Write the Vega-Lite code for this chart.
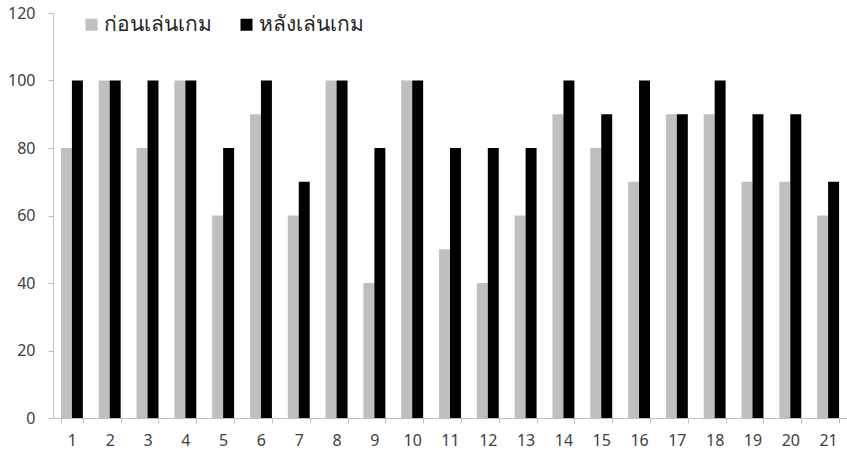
{
  "$schema": "https://vega.github.io/schema/vega-lite/v6.json",
  "width": 794,
  "height": 405,
  "autosize": {"type": "none"},
  "padding": {"left": 53, "top": 13, "right": 0, "bottom": 38},
  "background": "white",
  "config": {"view": {"stroke": null}, "font": "Noto Sans"},
  "data": {"values": [
    {"n": 1, "s": "ก่อนเล่นเกม", "v": 80}, {"n": 1, "s": "หลังเล่นเกม", "v": 100},
    {"n": 2, "s": "ก่อนเล่นเกม", "v": 100}, {"n": 2, "s": "หลังเล่นเกม", "v": 100},
    {"n": 3, "s": "ก่อนเล่นเกม", "v": 80}, {"n": 3, "s": "หลังเล่นเกม", "v": 100},
    {"n": 4, "s": "ก่อนเล่นเกม", "v": 100}, {"n": 4, "s": "หลังเล่นเกม", "v": 100},
    {"n": 5, "s": "ก่อนเล่นเกม", "v": 60}, {"n": 5, "s": "หลังเล่นเกม", "v": 80},
    {"n": 6, "s": "ก่อนเล่นเกม", "v": 90}, {"n": 6, "s": "หลังเล่นเกม", "v": 100},
    {"n": 7, "s": "ก่อนเล่นเกม", "v": 60}, {"n": 7, "s": "หลังเล่นเกม", "v": 70},
    {"n": 8, "s": "ก่อนเล่นเกม", "v": 100}, {"n": 8, "s": "หลังเล่นเกม", "v": 100},
    {"n": 9, "s": "ก่อนเล่นเกม", "v": 40}, {"n": 9, "s": "หลังเล่นเกม", "v": 80},
    {"n": 10, "s": "ก่อนเล่นเกม", "v": 100}, {"n": 10, "s": "หลังเล่นเกม", "v": 100},
    {"n": 11, "s": "ก่อนเล่นเกม", "v": 50}, {"n": 11, "s": "หลังเล่นเกม", "v": 80},
    {"n": 12, "s": "ก่อนเล่นเกม", "v": 40}, {"n": 12, "s": "หลังเล่นเกม", "v": 80},
    {"n": 13, "s": "ก่อนเล่นเกม", "v": 60}, {"n": 13, "s": "หลังเล่นเกม", "v": 80},
    {"n": 14, "s": "ก่อนเล่นเกม", "v": 90}, {"n": 14, "s": "หลังเล่นเกม", "v": 100},
    {"n": 15, "s": "ก่อนเล่นเกม", "v": 80}, {"n": 15, "s": "หลังเล่นเกม", "v": 90},
    {"n": 16, "s": "ก่อนเล่นเกม", "v": 70}, {"n": 16, "s": "หลังเล่นเกม", "v": 100},
    {"n": 17, "s": "ก่อนเล่นเกม", "v": 90}, {"n": 17, "s": "หลังเล่นเกม", "v": 90},
    {"n": 18, "s": "ก่อนเล่นเกม", "v": 90}, {"n": 18, "s": "หลังเล่นเกม", "v": 100},
    {"n": 19, "s": "ก่อนเล่นเกม", "v": 70}, {"n": 19, "s": "หลังเล่นเกม", "v": 90},
    {"n": 20, "s": "ก่อนเล่นเกม", "v": 70}, {"n": 20, "s": "หลังเล่นเกม", "v": 90},
    {"n": 21, "s": "ก่อนเล่นเกม", "v": 60}, {"n": 21, "s": "หลังเล่นเกม", "v": 70}
  ]},
  "mark": {"type": "bar"},
  "encoding": {
    "x": {
      "field": "n", "type": "ordinal", "sort": null,
      "scale": {"paddingInner": 0.42, "paddingOuter": 0.21},
      "axis": {
        "title": null, "labelAngle": 0, "labelFontSize": 16, "labelColor": "#404040",
        "domainColor": "#BFBFBF", "tickColor": "#BFBFBF", "tickSize": 5,
        "tickBand": "extent", "labelPadding": 9, "grid": false
      }
    },
    "xOffset": {"field": "s", "type": "nominal", "scale": {"domain": ["ก่อนเล่นเกม", "หลังเล่นเกม"], "paddingInner": 0, "paddingOuter": 0}},
    "y": {
      "field": "v", "type": "quantitative",
      "scale": {"domain": [0, 120], "nice": false},
      "axis": {
        "title": null, "values": [0, 20, 40, 60, 80, 100, 120], "grid": false,
        "labelFontSize": 16, "labelColor": "#404040", "domainColor": "#BFBFBF",
        "tickColor": "#BFBFBF", "tickSize": 5, "labelPadding": 13
      }
    },
    "color": {
      "field": "s", "type": "nominal",
      "scale": {"domain": ["ก่อนเล่นเกม", "หลังเล่นเกม"], "range": ["#BFBFBF", "#000000"]},
      "legend": {
        "title": null, "orient": "none", "legendX": 28, "legendY": 1, "direction": "horizontal",
        "symbolType": "square", "symbolSize": 144, "symbolStrokeWidth": 0,
        "labelFontSize": 21, "labelColor": "#262626", "columnPadding": 24, "labelOffset": 2, "padding": 0
      }
    }
  }
}
